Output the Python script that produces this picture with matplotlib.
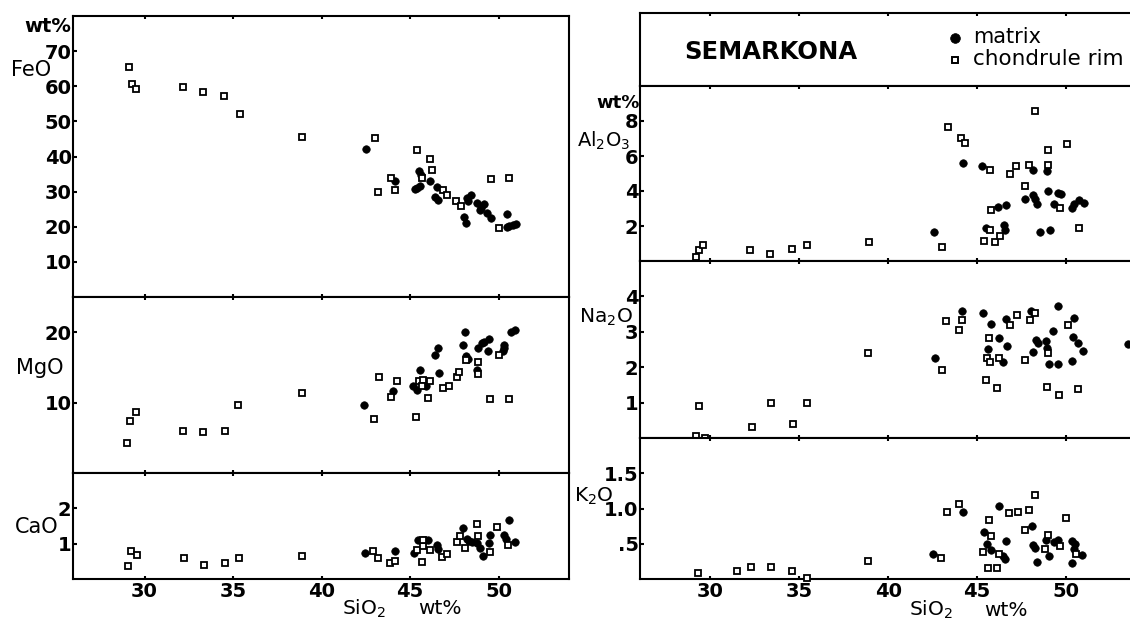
import matplotlib
matplotlib.use("Agg")
import matplotlib.pyplot as plt
import numpy as np

plt.rcParams['font.family'] = ['DejaVu Sans']
plt.rcParams['mathtext.default'] = 'regular'

# ---------------- data (SiO2 wt%, oxide wt%) ----------------
feo_rim_si = [29.13, 29.27, 29.54, 32.17, 33.3, 34.5, 35.4, 38.9, 43.0, 45.41, 46.13, 46.22, 43.93, 45.7,
              43.2, 44.17, 46.85, 47.1, 47.58, 47.86, 49.58, 50.6, 50.05]
feo_rim = [65.5, 60.7, 59.3, 59.7, 58.5, 57.3, 52.2, 45.6, 45.4, 41.9, 39.3, 36.2, 33.8, 33.8,
           30.0, 30.5, 30.5, 29.1, 27.2, 25.9, 33.6, 33.8, 19.7]
feo_mat_si = [42.5, 44.17, 45.49, 45.6, 45.56, 45.28, 46.13, 46.54, 46.41, 46.6, 48.2, 48.45, 48.05, 48.16,
              48.8, 49.18, 48.95, 49.33, 49.6, 50.46, 50.46, 50.84, 51.0, 45.4, 48.3, 49.0, 50.6]
feo_mat = [42.2, 33.1, 35.9, 34.8, 31.7, 30.7, 32.9, 31.4, 28.6, 27.6, 28.1, 28.9, 22.9, 21.0,
           26.7, 26.5, 24.8, 23.8, 22.6, 23.5, 20.0, 20.5, 20.8, 31.0, 27.4, 25.3, 20.1]

mgo_rim_si = [29.03, 29.2, 29.52, 32.19, 33.32, 34.53, 35.3, 38.87, 43.23, 44.25, 43.93, 42.97, 45.34, 46.04,
              45.5, 45.75, 46.13, 45.66, 46.88, 47.22, 47.64, 47.79, 48.16, 48.86, 48.86, 50.0, 49.52, 50.61]
mgo_rim = [4.2, 7.4, 8.7, 5.9, 5.8, 5.9, 9.7, 11.4, 13.7, 13.0, 10.8, 7.6, 7.9, 10.7,
           13.0, 13.2, 13.0, 12.3, 12.1, 12.4, 13.7, 14.3, 16.0, 15.8, 14.1, 16.8, 10.5, 10.5]
mgo_mat_si = [42.4, 44.06, 45.56, 45.19, 45.38, 46.64, 46.41, 46.6, 48.1, 48.0, 48.16, 48.3, 48.77, 48.86,
              49.05, 49.18, 49.46, 49.42, 50.3, 50.27, 50.3, 50.69, 50.93, 45.9]
mgo_mat = [9.7, 11.6, 14.6, 12.4, 11.8, 14.2, 16.8, 17.8, 20.0, 18.2, 16.6, 16.2, 14.6, 17.8,
           18.4, 18.6, 19.0, 17.4, 18.2, 17.3, 17.7, 20.0, 20.3, 12.3]

cao_rim_si = [29.07, 29.25, 29.6, 32.23, 33.36, 34.53, 35.33, 38.87, 42.93, 43.2, 43.87, 44.15, 45.66, 45.38,
              45.75, 46.1, 45.74, 46.79, 47.1, 47.64, 47.82, 48.8, 48.82, 48.1, 49.52, 49.93, 50.55]
cao_rim = [0.36, 0.78, 0.68, 0.59, 0.41, 0.46, 0.59, 0.66, 0.78, 0.60, 0.46, 0.50, 0.48, 0.83,
           0.92, 0.83, 1.11, 0.63, 0.72, 1.06, 1.22, 1.56, 1.22, 0.88, 0.77, 1.47, 0.97]
cao_mat_si = [42.47, 44.15, 45.45, 45.65, 45.85, 46.0, 45.22, 46.5, 46.6, 48.0, 48.2, 48.35, 48.5, 48.77,
              48.95, 49.14, 49.52, 49.48, 50.3, 50.4, 50.61, 50.93]
cao_mat = [0.74, 0.78, 1.11, 1.11, 1.11, 1.11, 0.74, 0.97, 0.85, 1.44, 1.13, 1.08, 1.06, 1.02,
           0.88, 0.66, 1.25, 1.02, 1.25, 1.13, 1.67, 1.06]

al_rim_si = [29.2, 29.34, 29.59, 32.25, 33.38, 34.58, 35.45, 38.94, 43.04, 43.36, 44.11, 44.31, 45.72, 46.88,
             47.22, 47.95, 48.29, 49.0, 50.09, 49.0, 47.7, 45.8, 49.66, 50.73, 45.72, 45.38, 46.04, 46.28]
al_rim = [0.23, 0.61, 0.90, 0.61, 0.38, 0.67, 0.90, 1.07, 0.82, 7.67, 7.01, 6.72, 5.2, 5.0,
          5.43, 5.47, 8.57, 6.34, 6.69, 5.47, 4.29, 2.91, 3.03, 1.9, 1.75, 1.16, 1.09, 1.43]
al_mat_si = [42.57, 44.22, 45.29, 45.51, 46.19, 46.66, 46.5, 46.6, 47.7, 48.16, 48.16, 48.29, 48.35, 48.53,
             49.1, 48.95, 49.02, 49.55, 49.7, 49.31, 50.35, 50.45, 50.73, 51.0]
al_mat = [1.68, 5.58, 5.43, 1.89, 3.1, 3.18, 2.04, 1.77, 3.52, 5.2, 3.75, 3.52, 3.24, 1.66,
          1.77, 5.14, 4.0, 3.9, 3.81, 3.24, 3.05, 3.24, 3.49, 3.3]

na_rim_si = [29.36, 29.18, 29.71, 32.36, 33.43, 34.63, 35.44, 38.87, 43.02, 43.28, 44.16, 44.01, 45.7, 45.57,
             45.75, 46.24, 45.49, 46.1, 46.86, 47.24, 47.97, 48.29, 47.72, 48.99, 48.92, 49.62, 50.12, 50.67]
na_rim = [0.91, 0.05, 0.0, 0.31, 1.0, 0.39, 1.0, 2.4, 1.91, 3.31, 3.33, 3.04, 2.83, 2.27,
          2.15, 2.25, 1.65, 1.42, 3.2, 3.47, 3.33, 3.53, 2.21, 2.41, 1.43, 1.22, 3.19, 1.39]
na_mat_si = [42.62, 44.16, 45.35, 45.77, 46.22, 46.66, 45.6, 46.68, 46.47, 48.06, 48.31, 48.44, 48.86, 48.95,
             48.15, 49.25, 49.57, 49.08, 49.57, 50.45, 50.39, 50.67, 50.97, 50.32, 53.51]
na_mat = [2.25, 3.58, 3.53, 3.22, 2.82, 3.36, 2.52, 2.59, 2.15, 3.58, 2.77, 2.67, 2.74, 2.55,
          2.44, 3.01, 3.73, 2.08, 2.1, 3.39, 2.84, 2.68, 2.45, 2.18, 2.65]

k_rim_si = [29.3, 31.51, 32.28, 33.43, 34.57, 35.42, 38.86, 42.98, 43.32, 43.99, 45.7, 45.8, 45.34, 46.26,
            45.64, 46.1, 46.83, 47.3, 47.92, 48.25, 47.69, 49.0, 48.85, 49.66, 50.01, 50.59]
k_rim = [0.08, 0.12, 0.17, 0.17, 0.12, 0.02, 0.25, 0.30, 0.95, 1.06, 0.84, 0.61, 0.38, 0.36,
         0.15, 0.16, 0.94, 0.95, 0.98, 1.19, 0.70, 0.63, 0.42, 0.47, 0.87, 0.36]
k_mat_si = [42.55, 44.22, 46.22, 45.4, 45.56, 45.8, 46.66, 46.47, 46.6, 48.1, 48.16, 48.29, 48.38, 48.9,
            49.03, 49.32, 49.55, 50.35, 50.53, 50.45, 50.92, 50.35]
k_mat = [0.35, 0.95, 1.04, 0.67, 0.5, 0.41, 0.54, 0.32, 0.28, 0.75, 0.48, 0.44, 0.24, 0.56,
         0.33, 0.52, 0.56, 0.54, 0.5, 0.43, 0.34, 0.22]

x_ticks = [30, 35, 40, 45, 50]
feo_ticks = [10, 20, 30, 40, 50, 60, 70]
mgo_ticks = [10, 20]
cao_ticks = [1, 2]
al_ticks = [2, 4, 6, 8]
na_ticks = [1, 2, 3, 4]
k_ticks = [0.5, 1.0, 1.5]
k_ticklabels = ['.5', '1.0', '1.5']

# ---------------- figure ----------------
W, H = 1130, 619
fig = plt.figure(figsize=(W / 100, H / 100), dpi=100)


def frac(x0, top, x1, bottom):
    return [x0 / W, 1 - bottom / H, (x1 - x0) / W, (bottom - top) / H]


SPINE_LW = 1.5
CIRC = dict(marker='o', ls='none', ms=5.4, mfc='black', mec='black', mew=0.5, clip_on=False, zorder=3)
SQR = dict(marker='s', ls='none', ms=4.0, mfc='white', mec='black', mew=1.3, clip_on=False, zorder=4)
TICKFONT = dict(fontsize=14, fontweight='bold')


def style(ax, xlim, ylim, yticks, yticklabels=None, xlabels=False):
    ax.set_xlim(*xlim)
    ax.set_ylim(*ylim)
    for s in ax.spines.values():
        s.set_linewidth(SPINE_LW)
    ax.set_xticks(x_ticks)
    ax.tick_params(axis='x', direction='in', length=2.5, width=1.5, top=True, bottom=True, pad=2)
    if xlabels:
        ax.set_xticklabels([str(t) for t in x_ticks], **TICKFONT)
    else:
        ax.set_xticklabels([])
    ax.set_yticks(yticks)
    ax.set_yticklabels(yticklabels if yticklabels else [str(t) for t in yticks], **TICKFONT)
    ax.tick_params(axis='y', direction='in', length=3, width=1.5, pad=1)


def plot_pair(ax, rsi, rv, msi, mv):
    ax.plot(msi, mv, **CIRC)
    ax.plot(rsi, rv, **SQR)


LX = (25.96, 53.98)
RX = (26.04, 53.61)

ax_feo = fig.add_axes(frac(73, 16, 569, 297))
plot_pair(ax_feo, feo_rim_si, feo_rim, feo_mat_si, feo_mat)
style(ax_feo, LX, (0, 80), feo_ticks)

ax_mgo = fig.add_axes(frac(73, 297, 569, 473))
plot_pair(ax_mgo, mgo_rim_si, mgo_rim, mgo_mat_si, mgo_mat)
style(ax_mgo, LX, (0, 25), mgo_ticks)

ax_cao = fig.add_axes(frac(73, 473, 569, 579))
plot_pair(ax_cao, cao_rim_si, cao_rim, cao_mat_si, cao_mat)
style(ax_cao, LX, (0, 3), cao_ticks, xlabels=True)

ax_leg = fig.add_axes(frac(640, 13, 1130, 86))
ax_leg.set_xlim(*RX)
ax_leg.set_ylim(0, 1)
ax_leg.set_xticks(x_ticks)
ax_leg.set_xticklabels([])
ax_leg.set_yticks([])
ax_leg.tick_params(axis='x', direction='in', length=2.5, width=1.5, top=True, bottom=False)
for s in ax_leg.spines.values():
    s.set_linewidth(SPINE_LW)
ax_leg.spines['right'].set_visible(False)

ax_al = fig.add_axes(frac(640, 86, 1130, 261))
plot_pair(ax_al, al_rim_si, al_rim, al_mat_si, al_mat)
style(ax_al, RX, (0, 10), al_ticks)

ax_na = fig.add_axes(frac(640, 261, 1130, 438))
plot_pair(ax_na, na_rim_si, na_rim, na_mat_si, na_mat)
style(ax_na, RX, (0, 5), na_ticks)

ax_k = fig.add_axes(frac(640, 438, 1130, 579))
plot_pair(ax_k, k_rim_si, k_rim, k_mat_si, k_mat)
style(ax_k, RX, (0, 2), k_ticks, yticklabels=k_ticklabels, xlabels=True)

for ax in (ax_al, ax_na, ax_k):
    ax.spines['right'].set_visible(False)


def ftext(x, y, s, **kw):
    fig.text(x / W, 1 - y / H, s, **kw)


LAB = dict(fontsize=15, va='center')
ftext(24, 26, 'wt%', fontsize=14, fontweight='bold', va='center', ha='left')
ftext(11, 70, 'FeO', ha='left', **LAB)
ftext(16, 368, 'MgO', ha='left', **LAB)
ftext(15, 527, 'CaO', ha='left', **LAB)
ftext(342, 609, 'SiO$_2$', ha='left', fontsize=14.5, va='center')
ftext(418, 609, 'wt%', ha='left', fontsize=14.5, va='center')

ftext(596, 103, 'wt%', fontsize=13, fontweight='bold', va='center', ha='left')
ftext(577, 141, 'Al$_2$O$_3$', ha='left', fontsize=14, va='center')
ftext(579, 317, 'Na$_2$O', ha='left', fontsize=14.5, va='center')
ftext(574, 496, 'K$_2$O', ha='left', fontsize=14.5, va='center')
ftext(909, 610, 'SiO$_2$', ha='left', fontsize=14.5, va='center')
ftext(984, 610, 'wt%', ha='left', fontsize=14.5, va='center')

# legend panel
ftext(684, 52, 'SEMARKONA', fontsize=17.5, fontweight='bold', ha='left', va='center')
LEG_CIRC = dict(CIRC, ms=7)
LEG_SQR = dict(SQR, ms=5, mew=1.4)
ax_leg.plot([RX[0] + (955 - 640) / 17.77], [1 - (38 - 13) / 73], **LEG_CIRC)
ax_leg.plot([RX[0] + (955 - 640) / 17.77], [1 - (60 - 13) / 73], **LEG_SQR)
ftext(973, 37, 'matrix', fontsize=15, ha='left', va='center')
ftext(973, 59, 'chondrule rim', fontsize=15.5, ha='left', va='center')

fig.savefig('out.png', dpi=100)
